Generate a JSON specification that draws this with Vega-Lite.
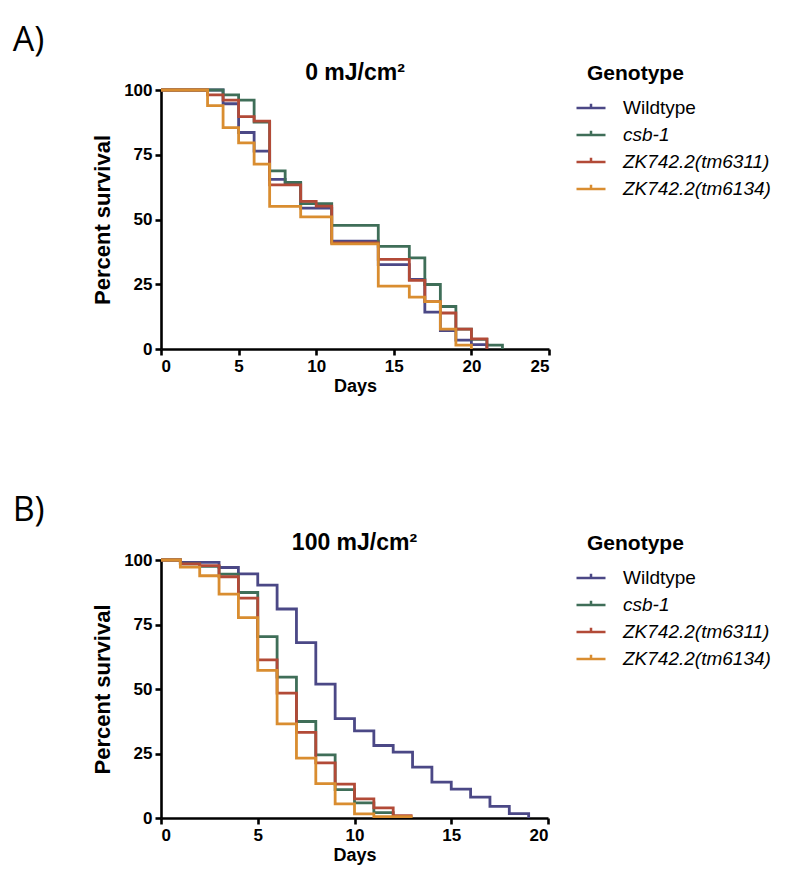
{
  "$schema": "https://vega.github.io/schema/vega-lite/v6.json",
  "background": "white",
  "padding": {"left": 12, "top": 24, "right": 5, "bottom": 5},
  "datasets": {
    "a": [
      {"genotype": "Wildtype", "day": 0, "pct": 100}, {"genotype": "Wildtype", "day": 4, "pct": 94.7}, {"genotype": "Wildtype", "day": 5, "pct": 83.6}, {"genotype": "Wildtype", "day": 6, "pct": 76.4}, {"genotype": "Wildtype", "day": 7, "pct": 65.5}, {"genotype": "Wildtype", "day": 8, "pct": 64.0}, {"genotype": "Wildtype", "day": 9, "pct": 54.4}, {"genotype": "Wildtype", "day": 11, "pct": 41.6}, {"genotype": "Wildtype", "day": 14, "pct": 32.6}, {"genotype": "Wildtype", "day": 16, "pct": 26.9}, {"genotype": "Wildtype", "day": 17, "pct": 14.2}, {"genotype": "Wildtype", "day": 18, "pct": 7.1}, {"genotype": "Wildtype", "day": 19, "pct": 3.4}, {"genotype": "Wildtype", "day": 20, "pct": 1.7}, {"genotype": "Wildtype", "day": 21, "pct": 0},
      {"genotype": "csb-1", "day": 0, "pct": 100}, {"genotype": "csb-1", "day": 4, "pct": 98.1}, {"genotype": "csb-1", "day": 5, "pct": 96.1}, {"genotype": "csb-1", "day": 6, "pct": 87.6}, {"genotype": "csb-1", "day": 7, "pct": 68.8}, {"genotype": "csb-1", "day": 8, "pct": 64.3}, {"genotype": "csb-1", "day": 9, "pct": 56.1}, {"genotype": "csb-1", "day": 11, "pct": 47.7}, {"genotype": "csb-1", "day": 14, "pct": 39.6}, {"genotype": "csb-1", "day": 16, "pct": 35.2}, {"genotype": "csb-1", "day": 17, "pct": 24.9}, {"genotype": "csb-1", "day": 18, "pct": 16.4}, {"genotype": "csb-1", "day": 19, "pct": 7.7}, {"genotype": "csb-1", "day": 20, "pct": 3.7}, {"genotype": "csb-1", "day": 21, "pct": 1.5}, {"genotype": "csb-1", "day": 22, "pct": 0},
      {"genotype": "ZK742.2(tm6311)", "day": 0, "pct": 100}, {"genotype": "ZK742.2(tm6311)", "day": 3, "pct": 98.1}, {"genotype": "ZK742.2(tm6311)", "day": 4, "pct": 96.1}, {"genotype": "ZK742.2(tm6311)", "day": 5, "pct": 89.7}, {"genotype": "ZK742.2(tm6311)", "day": 6, "pct": 88.0}, {"genotype": "ZK742.2(tm6311)", "day": 7, "pct": 63.4}, {"genotype": "ZK742.2(tm6311)", "day": 9, "pct": 57.0}, {"genotype": "ZK742.2(tm6311)", "day": 10, "pct": 55.2}, {"genotype": "ZK742.2(tm6311)", "day": 11, "pct": 41.0}, {"genotype": "ZK742.2(tm6311)", "day": 14, "pct": 34.6}, {"genotype": "ZK742.2(tm6311)", "day": 16, "pct": 26.5}, {"genotype": "ZK742.2(tm6311)", "day": 17, "pct": 18.3}, {"genotype": "ZK742.2(tm6311)", "day": 18, "pct": 13.9}, {"genotype": "ZK742.2(tm6311)", "day": 19, "pct": 7.7}, {"genotype": "ZK742.2(tm6311)", "day": 20, "pct": 3.9}, {"genotype": "ZK742.2(tm6311)", "day": 21, "pct": 0},
      {"genotype": "ZK742.2(tm6134)", "day": 0, "pct": 100}, {"genotype": "ZK742.2(tm6134)", "day": 3, "pct": 94.0}, {"genotype": "ZK742.2(tm6134)", "day": 4, "pct": 85.5}, {"genotype": "ZK742.2(tm6134)", "day": 5, "pct": 79.6}, {"genotype": "ZK742.2(tm6134)", "day": 6, "pct": 71.4}, {"genotype": "ZK742.2(tm6134)", "day": 7, "pct": 55.1}, {"genotype": "ZK742.2(tm6134)", "day": 9, "pct": 51.0}, {"genotype": "ZK742.2(tm6134)", "day": 11, "pct": 40.6}, {"genotype": "ZK742.2(tm6134)", "day": 14, "pct": 24.3}, {"genotype": "ZK742.2(tm6134)", "day": 16, "pct": 20.0}, {"genotype": "ZK742.2(tm6134)", "day": 17, "pct": 18.3}, {"genotype": "ZK742.2(tm6134)", "day": 18, "pct": 7.7}, {"genotype": "ZK742.2(tm6134)", "day": 19, "pct": 1.5}, {"genotype": "ZK742.2(tm6134)", "day": 20, "pct": 0}
    ],
    "b": [
      {"genotype": "Wildtype", "day": 0, "pct": 100}, {"genotype": "Wildtype", "day": 1, "pct": 99.1}, {"genotype": "Wildtype", "day": 3, "pct": 97.1}, {"genotype": "Wildtype", "day": 4, "pct": 94.6}, {"genotype": "Wildtype", "day": 5, "pct": 90.3}, {"genotype": "Wildtype", "day": 6, "pct": 81.0}, {"genotype": "Wildtype", "day": 7, "pct": 68.0}, {"genotype": "Wildtype", "day": 8, "pct": 51.9}, {"genotype": "Wildtype", "day": 9, "pct": 38.5}, {"genotype": "Wildtype", "day": 10, "pct": 33.8}, {"genotype": "Wildtype", "day": 11, "pct": 28.1}, {"genotype": "Wildtype", "day": 12, "pct": 25.5}, {"genotype": "Wildtype", "day": 13, "pct": 19.7}, {"genotype": "Wildtype", "day": 14, "pct": 13.9}, {"genotype": "Wildtype", "day": 15, "pct": 11.2}, {"genotype": "Wildtype", "day": 16, "pct": 8.1}, {"genotype": "Wildtype", "day": 17, "pct": 4.5}, {"genotype": "Wildtype", "day": 18, "pct": 1.7}, {"genotype": "Wildtype", "day": 19, "pct": 0},
      {"genotype": "csb-1", "day": 0, "pct": 100}, {"genotype": "csb-1", "day": 1, "pct": 98.5}, {"genotype": "csb-1", "day": 2, "pct": 97.5}, {"genotype": "csb-1", "day": 3, "pct": 94.5}, {"genotype": "csb-1", "day": 4, "pct": 87.4}, {"genotype": "csb-1", "day": 5, "pct": 70.3}, {"genotype": "csb-1", "day": 6, "pct": 54.6}, {"genotype": "csb-1", "day": 7, "pct": 37.4}, {"genotype": "csb-1", "day": 8, "pct": 24.5}, {"genotype": "csb-1", "day": 9, "pct": 11.0}, {"genotype": "csb-1", "day": 10, "pct": 5.9}, {"genotype": "csb-1", "day": 11, "pct": 2.1}, {"genotype": "csb-1", "day": 12, "pct": 0},
      {"genotype": "ZK742.2(tm6311)", "day": 0, "pct": 100}, {"genotype": "ZK742.2(tm6311)", "day": 1, "pct": 98.5}, {"genotype": "ZK742.2(tm6311)", "day": 2, "pct": 97.8}, {"genotype": "ZK742.2(tm6311)", "day": 3, "pct": 93.5}, {"genotype": "ZK742.2(tm6311)", "day": 4, "pct": 85.2}, {"genotype": "ZK742.2(tm6311)", "day": 5, "pct": 61.3}, {"genotype": "ZK742.2(tm6311)", "day": 6, "pct": 48.4}, {"genotype": "ZK742.2(tm6311)", "day": 7, "pct": 33.2}, {"genotype": "ZK742.2(tm6311)", "day": 8, "pct": 21.4}, {"genotype": "ZK742.2(tm6311)", "day": 9, "pct": 13.1}, {"genotype": "ZK742.2(tm6311)", "day": 10, "pct": 7.4}, {"genotype": "ZK742.2(tm6311)", "day": 11, "pct": 3.9}, {"genotype": "ZK742.2(tm6311)", "day": 12, "pct": 0.9}, {"genotype": "ZK742.2(tm6311)", "day": 13, "pct": 0.9},
      {"genotype": "ZK742.2(tm6134)", "day": 0, "pct": 100}, {"genotype": "ZK742.2(tm6134)", "day": 1, "pct": 97.2}, {"genotype": "ZK742.2(tm6134)", "day": 2, "pct": 93.9}, {"genotype": "ZK742.2(tm6134)", "day": 3, "pct": 86.8}, {"genotype": "ZK742.2(tm6134)", "day": 4, "pct": 77.7}, {"genotype": "ZK742.2(tm6134)", "day": 5, "pct": 57.2}, {"genotype": "ZK742.2(tm6134)", "day": 6, "pct": 36.5}, {"genotype": "ZK742.2(tm6134)", "day": 7, "pct": 23.2}, {"genotype": "ZK742.2(tm6134)", "day": 8, "pct": 13.3}, {"genotype": "ZK742.2(tm6134)", "day": 9, "pct": 5.5}, {"genotype": "ZK742.2(tm6134)", "day": 10, "pct": 1.6}, {"genotype": "ZK742.2(tm6134)", "day": 11, "pct": 0.5}, {"genotype": "ZK742.2(tm6134)", "day": 13, "pct": 0.5}
    ]
  },
  "spacing": 99,
  "resolve": {"legend": {"color": "independent"}},
  "vconcat": [
    {
      "title": {"text": "A)", "anchor": "start", "frame": "bounds", "dx": -79, "font": "Open Sans", "fontSize": 34, "fontWeight": "normal", "color": "black", "offset": 4},
      "resolve": {"legend": {"color": "independent"}},
      "vconcat": [
        {
          "width": 388,
          "height": 259,
          "title": {"text": "0 mJ/cm²", "font": "Liberation Sans", "fontSize": 23, "fontWeight": "bold", "color": "black", "offset": -22},
          "data": {"name": "a"},
          "mark": {"type": "line", "interpolate": "step-after", "strokeWidth": 2.8, "clip": false},
          "encoding": {
            "x": {"field": "day", "type": "quantitative", "scale": {"domain": [0, 25], "nice": false}, "axis": {"values": [0, 5, 10, 15, 20, 25], "title": "Days"}},
            "y": {"field": "pct", "type": "quantitative", "scale": {"domain": [0, 100], "nice": false}, "axis": {"values": [0, 25, 50, 75, 100], "title": "Percent survival"}},
            "color": {
              "field": "genotype", "type": "nominal",
              "scale": {"domain": ["Wildtype", "csb-1", "ZK742.2(tm6311)", "ZK742.2(tm6134)"], "range": ["#4b4886", "#3f6e58", "#b24a37", "#d98d30"]},
              "legend": {"orient": "none", "legendX": 426, "legendY": -27, "padding": 0, "title": "Genotype", "symbolOffset": -12, "labelOffset": 16, "rowPadding": 1, "titlePadding": 8, "symbolType": "M-1,0H1M0,0V-0.3", "symbolSize": 841, "symbolStrokeWidth": 2.5,
                "encoding": {"labels": {"fontStyle": {"condition": {"test": "datum.value !== 'Wildtype'", "value": "italic"}, "value": "normal"}}}}
            }
          }
        }
      ]
    },
    {
      "title": {"text": "B)", "anchor": "start", "frame": "bounds", "dx": -79, "font": "Open Sans", "fontSize": 34, "fontWeight": "normal", "color": "black", "offset": 4},
      "resolve": {"legend": {"color": "independent"}},
      "vconcat": [
        {
          "width": 387,
          "height": 258,
          "title": {"text": "100 mJ/cm²", "font": "Liberation Sans", "fontSize": 23, "fontWeight": "bold", "color": "black", "offset": -22},
          "data": {"name": "b"},
          "mark": {"type": "line", "interpolate": "step-after", "strokeWidth": 2.8, "clip": false},
          "encoding": {
            "x": {"field": "day", "type": "quantitative", "scale": {"domain": [0, 20], "nice": false}, "axis": {"values": [0, 5, 10, 15, 20], "title": "Days"}},
            "y": {"field": "pct", "type": "quantitative", "scale": {"domain": [0, 100], "nice": false}, "axis": {"values": [0, 25, 50, 75, 100], "title": "Percent survival"}},
            "color": {
              "field": "genotype", "type": "nominal",
              "scale": {"domain": ["Wildtype", "csb-1", "ZK742.2(tm6311)", "ZK742.2(tm6134)"], "range": ["#4b4886", "#3f6e58", "#b24a37", "#d98d30"]},
              "legend": {"orient": "none", "legendX": 426, "legendY": -27, "padding": 0, "title": "Genotype", "symbolOffset": -12, "labelOffset": 16, "rowPadding": 1, "titlePadding": 8, "symbolType": "M-1,0H1M0,0V-0.3", "symbolSize": 841, "symbolStrokeWidth": 2.5,
                "encoding": {"labels": {"fontStyle": {"condition": {"test": "datum.value !== 'Wildtype'", "value": "italic"}, "value": "normal"}}}}
            }
          }
        }
      ]
    }
  ],
  "config": {
    "view": {"stroke": null},
    "axis": {"grid": false, "domainColor": "black", "domainWidth": 2.6, "tickColor": "black", "tickWidth": 2.6, "tickSize": 6, "labelFont": "Liberation Sans", "labelFontWeight": "bold", "labelFontSize": 17, "labelColor": "black", "labelPadding": 3, "titleFont": "Liberation Sans", "titleFontWeight": "bold", "titleFontSize": 18, "titleColor": "black"},
    "axisY": {"titlePadding": 9, "labelPadding": 3, "titleFontSize": 22},
    "axisX": {"titlePadding": 3},
    "legend": {"titleFont": "Liberation Sans", "titleFontSize": 21, "titleFontWeight": "bold", "titleColor": "black", "labelFont": "Liberation Sans", "labelFontSize": 19, "labelColor": "black", "labelLimit": 300}
  }
}
